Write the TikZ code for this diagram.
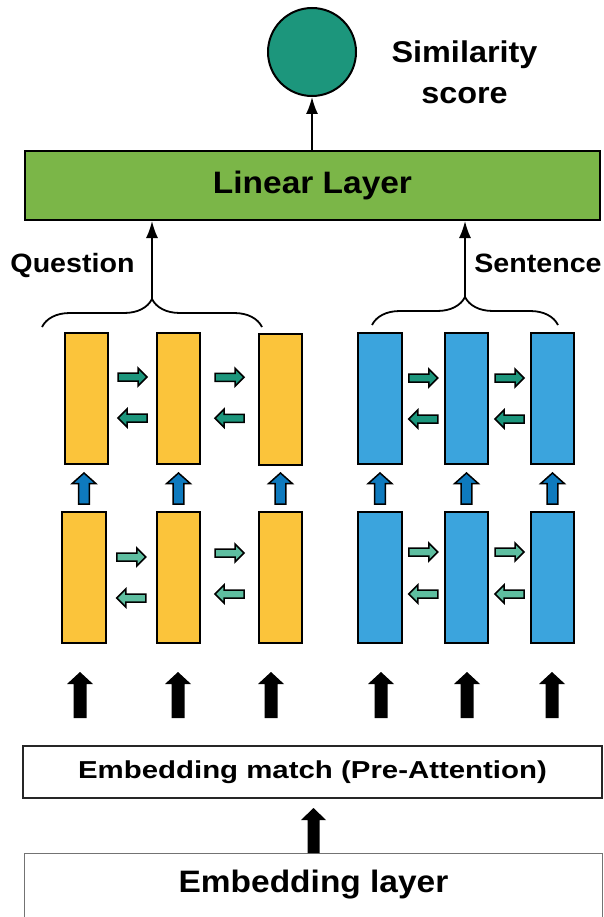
\documentclass[tikz,border=0pt]{standalone}
\usepackage{fontspec}
\setmainfont{Liberation Sans}[FakeStretch=1.08]
\newfontfamily\widefont{Liberation Sans}[FakeStretch=1.2]
\usetikzlibrary{arrows.meta,calc,decorations.pathreplacing}
\definecolor{ycol}{RGB}{251,196,59}
\definecolor{bcol}{RGB}{59,164,221}
\definecolor{bdark}{RGB}{14,122,190}
\definecolor{tdark}{RGB}{28,150,124}
\definecolor{tlight}{RGB}{94,190,160}
\definecolor{lgreen}{RGB}{123,182,72}
\newcommand{\blockarr}[7]{%
  \begin{scope}[shift={#2}, rotate=#3]
    \draw[#1] ({-(#4)/2},{-(#5)/2}) -- ({(#4)/2-(#7)},{-(#5)/2}) -- ({(#4)/2-(#7)},{-(#6)/2}) -- ({(#4)/2},0) -- ({(#4)/2-(#7)},{(#6)/2}) -- ({(#4)/2-(#7)},{(#5)/2}) -- ({-(#4)/2},{(#5)/2}) -- cycle;
  \end{scope}}
\begin{document}
\begin{tikzpicture}[x=1pt,y=-1pt,
  cell/.style={draw=black, line width=2pt, minimum width=43.5pt, minimum height=131pt, inner sep=0pt},
  ycell/.style={cell, fill=ycol},
  bcell/.style={cell, fill=bcol},
  gdark/.style={draw=black, line width=1.5pt, fill=tdark, line join=miter},
  glight/.style={draw=black, line width=1.5pt, fill=tlight, line join=miter},
  bup/.style={draw=black, line width=1.5pt, fill=bdark, line join=miter},
  kup/.style={fill=black, draw=none},
  conn/.style={line width=1.8pt, -{Latex[length=17pt,width=12pt]}},
  bracestyle/.style={line width=1.8pt, decorate, decoration={brace, amplitude=28pt}},
  bigtxt/.style={font=\bfseries\fontsize{31}{37}\selectfont},
  lbltxt/.style={font=\bfseries\fontsize{26.5}{32}\selectfont, inner sep=0pt},
]
\useasboundingbox (0,0) rectangle (604,917);
\clip (0,0) rectangle (604,917);

% similarity output
\node[circle, draw=black, line width=2pt, fill=tdark, minimum size=88pt, inner sep=0pt] (score) at (312,52) {};
\node[font=\bfseries\fontsize{30}{40.4}\selectfont, align=center, inner sep=0pt, anchor=north] (simlbl) at (464.5,40.8) {Similarity\\score};

% linear layer
\node[draw=black, line width=2pt, fill=lgreen, minimum width=575pt, minimum height=69pt, inner sep=0pt, bigtxt] (lin) at (312.5,185.5) {Linear Layer};
\draw[conn] (lin.north -| score) -- (score.south);

% labels
\node[lbltxt, anchor=base] (qlbl) at (72.5,272.7) {Question};
\node[lbltxt, anchor=base] (slbl) at (538,272.7) {Sentence};

% cells
\node[ycell] (q1t) at (86.5,398.5) {};
\node[ycell] (q2t) at (178.5,398.5) {};
\node[ycell] (q3t) at (280.5,399) {};
\node[ycell] (q1b) at (84,577.5) {};
\node[ycell] (q2b) at (178.5,577.5) {};
\node[ycell] (q3b) at (280.5,577.5) {};
\node[bcell] (s1t) at (380,398.5) {};
\node[bcell] (s2t) at (466.5,398.5) {};
\node[bcell] (s3t) at (552.5,398.5) {};
\node[bcell] (s1b) at (380,577.5) {};
\node[bcell] (s2b) at (466.5,577.5) {};
\node[bcell] (s3b) at (552.5,577.5) {};

% braces and arrows to linear layer
\coordinate (qbl) at (42,327);
\coordinate (qbr) at (262,327);
\coordinate (sbl) at (372,325);
\coordinate (sbr) at (558,325);
\draw[bracestyle] (qbl) -- (qbr);
\draw[bracestyle] (sbl) -- (sbr);
\coordinate (qtip) at (152,299);
\coordinate (stip) at (465,297);
\draw[conn] (qtip) -- (qtip |- lin.south);
\draw[conn] (stip) -- (stip |- lin.south);

% horizontal recurrent arrows
\foreach \a/\b/\dr/\dl/\st in {q1t/q2t/-21.5/19.5/gdark, q2t/q3t/-21.5/19.5/gdark,
                              s1t/s2t/-20.5/20.5/gdark, s2t/s3t/-20.5/20.5/gdark,
                              q1b/q2b/-20.5/20.5/glight, q2b/q3b/-24.5/16.5/glight,
                              s1b/s2b/-25.5/16.5/glight, s2b/s3b/-25.5/16.5/glight}{
  \blockarr{\st}{($(\a.east)!.5!(\b.west)+(0,\dr)$)}{0}{29}{8}{18}{9}
  \blockarr{\st}{($(\a.east)!.5!(\b.west)+(0,\dl)$)}{180}{29}{8}{18}{9}
}

% vertical arrows between layers
\foreach \c in {q1b,q2b,q3b,s1b,s2b,s3b}{
  \blockarr{bup}{($(\c.north)+(0,-22.5)$)}{90}{31}{10.7}{24}{10.7}
}

% embedding match box
\node[draw=black!85, line width=2pt, minimum width=579pt, minimum height=52pt, inner sep=0pt,
      font=\widefont\bfseries\fontsize{24.5}{30}\selectfont] (emb) at (312.5,772) {Embedding match (Pre-Attention)};

% black arrows from embedding match to cells
\foreach \x in {80,178,271,381,467,552}{
  \blockarr{kup}{(\x,695)}{90}{46}{13}{26}{12}
}

% embedding layer
\node[draw=black!55, line width=1pt, anchor=north, minimum width=578pt, inner xsep=0pt, inner ysep=17.3pt,
      text height=22pt, text depth=25pt, bigtxt] (embl) at (313.5,853) {Embedding layer};
\blockarr{kup}{($(embl.north)+(0,-22.5)$)}{90}{45}{12}{25}{12}

\end{tikzpicture}
\end{document}
